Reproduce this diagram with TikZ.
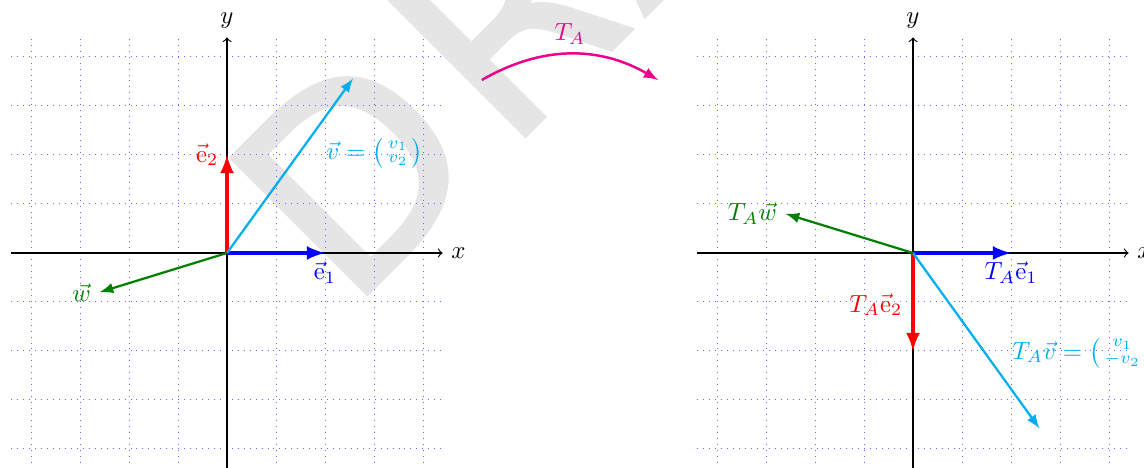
\documentclass[tikz,border=0pt]{standalone}
\usepackage{amsmath}
\usepackage{fontspec}
\newfontfamily\wmfont{DejaVu Sans}[FakeBold=1.7,LetterSpace=8]
\definecolor{cmykcyan}{RGB}{0,174,239}
\definecolor{cmykmag}{RGB}{236,0,140}
\definecolor{vgreen}{RGB}{0,128,0}
\begin{document}
\begin{tikzpicture}[x=0.694cm,y=0.694cm,
  gridline/.style={blue!60, dotted, line width=0.4pt},
  axisline/.style={->, line width=0.45pt},
  basisvec/.style={-latex, line width=1.5pt},
  plainvec/.style={-latex, line width=0.9pt},
  maparrow/.style={-latex, line width=1pt, cmykmag}]
\clip (-4.633,-4.388) rectangle (18.714,5.163);
% watermark
\node[rotate=45, anchor=base west, inner sep=0pt, text=black!10,
      font=\wmfont\fontsize{106}{106}\selectfont] (wm) at (2.484,-1.202) {DRAFT};
% ---------- left plot ----------
\begin{scope}
  \draw[gridline, step=1] (-4.4,-4.4) grid (4.4,4.4);
  \coordinate (O1) at (0,0);
  \coordinate (xl1) at (-4.4,0); \coordinate (xr1) at (4.4,0);
  \coordinate (yb1) at (0,-4.4); \coordinate (yt1) at (0,4.4);
  \draw[axisline] (xl1) -- (xr1) node[right] (xlab1) {$x$};
  \draw[axisline] (yb1) -- (yt1) node[above] (ylab1) {$y$};
  \coordinate (e1) at (2,0);
  \coordinate (e2) at (0,2);
  \coordinate (v) at (2.57,3.56);
  \coordinate (w) at (-2.6,-0.8);
  \draw[basisvec, blue] (O1) -- (e1);
  \draw[basisvec, red] (O1) -- (e2);
  \draw[plainvec, cmykcyan] (O1) -- (v);
  \draw[plainvec, vgreen] (O1) -- (w);
  \node[below, blue] (e1lab) at (e1) {$\vec{\mathrm{e}}_1$};
  \node[left, red] (e2lab) at (e2) {$\vec{\mathrm{e}}_2$};
  \node[anchor=west, cmykcyan] (vlab) at (1.85,2.04)
     {$\vec{v} = \bigl(\begin{smallmatrix} v_1\\ v_2 \end{smallmatrix}\bigr)$};
  \node[left, vgreen] (wlab) at (w) {$\vec{w}$};
\end{scope}
% ---------- right plot ----------
\begin{scope}[shift={(14,0)}]
  \draw[gridline, step=1] (-4.4,-4.4) grid (4.4,4.4);
  \coordinate (O2) at (0,0);
  \coordinate (xl2) at (-4.4,0); \coordinate (xr2) at (4.4,0);
  \coordinate (yb2) at (0,-4.4); \coordinate (yt2) at (0,4.4);
  \draw[axisline] (xl2) -- (xr2) node[right] (xlab2) {$x$};
  \draw[axisline] (yb2) -- (yt2) node[above] (ylab2) {$y$};
  \coordinate (Te1) at (2,0);
  \coordinate (Te2) at (0,-2);
  \coordinate (Tv) at (2.58,-3.58);
  \coordinate (Tw) at (-2.6,0.8);
  \draw[basisvec, blue] (O2) -- (Te1);
  \draw[basisvec, red] (O2) -- (Te2);
  \draw[plainvec, cmykcyan] (O2) -- (Tv);
  \draw[plainvec, vgreen] (O2) -- (Tw);
  \node[below, blue] (Te1lab) at (Te1) {$T_A\vec{\mathrm{e}}_1$};
  \node[anchor=east, red] (Te2lab) at (-0.04,-1.06) {$T_A\vec{\mathrm{e}}_2$};
  \node[anchor=west, cmykcyan] (Tvlab) at (1.85,-2.04)
     {$T_A\vec{v} = \bigl(\begin{smallmatrix} v_1\\ -v_2 \end{smallmatrix}\bigr)$};
  \node[left, vgreen] (Twlab) at (Tw) {$T_A\vec{w}$};
\end{scope}
% ---------- map arrow ----------
\coordinate (a1) at (5.2,3.53);
\coordinate (a2) at (8.8,3.53);
\draw[maparrow] (a1) to[bend left=30] node[above] (TAlab) {$T_A$} (a2);
\end{tikzpicture}
\end{document}
